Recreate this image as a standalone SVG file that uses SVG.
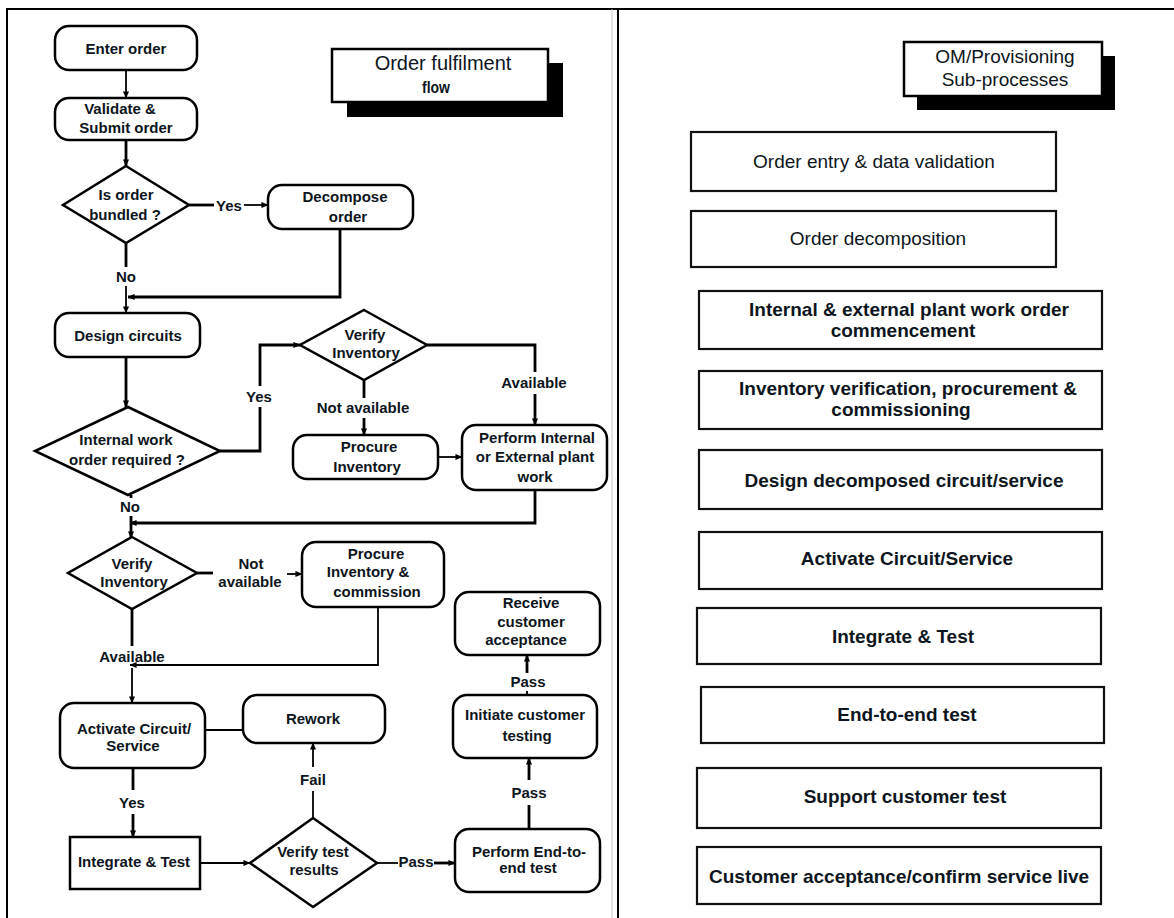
<svg xmlns="http://www.w3.org/2000/svg" width="1174" height="918" viewBox="0 0 1174 918">
<style>
.n{fill:#fff;stroke:#000;stroke-width:2.5}
.b{fill:#fff;stroke:#111;stroke-width:2.2}
.sh{fill:#000}
.c{fill:none;stroke:#000;stroke-width:2.8}
.t{fill:none;stroke:#000;stroke-width:1.8}
.a{marker-end:url(#ah)}
text{font-family:"Liberation Sans",Arial,sans-serif;fill:#0d1520;text-anchor:middle}
.l{font-size:15px;font-weight:bold}
.r{font-size:19px}
.rb{font-size:19px;font-weight:bold}
</style>
<defs>
<marker id="ah" viewBox="0 0 8 8" refX="7.5" refY="4" markerWidth="7" markerHeight="7" markerUnits="userSpaceOnUse" orient="auto">
<path d="M0,0.5 L8,4 L0,7.5 z" fill="#000"/>
</marker>
</defs>
<rect width="1174" height="918" fill="#fff"/>
<g id="frame">
<path d="M7,918 V9 H1174" fill="none" stroke="#000" stroke-width="2"/>
<line x1="612" y1="9" x2="612" y2="918" stroke="#c8c8c8" stroke-width="1"/>
<line x1="618" y1="9" x2="618" y2="918" stroke="#000" stroke-width="2"/>
</g>
<g id="connectors">
<path class="t a" d="M126,70 V98"/>
<path class="c a" d="M126,140 V166"/>
<path class="c" d="M189,205 H214"/>
<path class="t a" d="M244,205 H268"/>
<path class="c" d="M126,243 V267"/>
<path class="t a" d="M126,286 V313"/>
<path class="c a" d="M340,229 V297 H128"/>
<path class="c a" d="M126,357 V407"/>
<path class="c" d="M220,451 H260 V407"/>
<path class="c a" d="M260,386 V345 H300"/>
<path class="c" d="M131,495 V498"/>
<path class="c a" d="M131,516 V538"/>
<path class="c" d="M427,345 H535 V372"/>
<path class="c a" d="M535,394 V425"/>
<path class="c" d="M364,380 V398"/>
<path class="c a" d="M364,418 V435"/>
<path class="t a" d="M438,457 H462"/>
<path class="c a" d="M535,490 V523 H130"/>
<path class="c" d="M197,573 H213"/>
<path class="t a" d="M287,574 H302"/>
<path class="c" d="M132,609 V646"/>
<path class="t a" d="M378,607 V665 H130"/>
<path class="t a" d="M132,668 V703"/>
<path class="t" d="M205,730 H243"/>
<path class="c" d="M133,768 V790"/>
<path class="c a" d="M133,814 V837"/>
<path class="t a" d="M200,863 H250"/>
<path class="t" d="M313,818 V791"/>
<path class="t a" d="M313,767 V743"/>
<path class="t" d="M377,863 H398"/>
<path class="c a" d="M434,863 H455"/>
<path class="c" d="M529,829 V805"/>
<path class="c a" d="M529,780 V758"/>
<path class="t" d="M527,695 V691"/>
<path class="c a" d="M527,673 V655"/>
</g>
<g id="labels">
<text class="l" x="229" y="211">Yes</text>
<text class="l" x="126" y="282">No</text>
<text class="l" x="259" y="402">Yes</text>
<text class="l" x="130" y="512">No</text>
<text class="l" x="534" y="388">Available</text>
<text class="l" x="363" y="413">Not available</text>
<text class="l" x="251" y="569">Not</text>
<text class="l" x="250" y="587">available</text>
<text class="l" x="132" y="662">Available</text>
<text class="l" x="132" y="808">Yes</text>
<text class="l" x="313" y="785">Fail</text>
<text class="l" x="416" y="867">Pass</text>
<text class="l" x="529" y="798">Pass</text>
<text class="l" x="528" y="687">Pass</text>
</g>
<g id="title-left">
<rect class="sh" x="347" y="63" width="216" height="54"/>
<rect class="n" x="332" y="49" width="216" height="53"/>
<text x="443" y="70" style="font-size:20px">Order fulfilment</text>
<text x="436" y="93" style="font-size:16px;font-weight:bold" textLength="28" lengthAdjust="spacingAndGlyphs">flow</text>
</g>
<g id="enter-order">
<rect class="n" x="55" y="26" width="142" height="44" rx="14"/>
<text class="l" x="126" y="54">Enter order</text>
</g>
<g id="validate-submit">
<rect class="n" x="55" y="98" width="142" height="42" rx="14"/>
<text class="l" x="120" y="114">Validate &amp;</text>
<text class="l" x="126" y="133">Submit order</text>
</g>
<g id="is-order-bundled">
<polygon class="n" points="126,166 189,205 126,243 63,205"/>
<text class="l" x="126" y="200">Is order</text>
<text class="l" x="125" y="220">bundled ?</text>
</g>
<g id="decompose-order">
<rect class="n" x="268" y="185" width="145" height="44" rx="14"/>
<text class="l" x="345" y="202">Decompose</text>
<text class="l" x="348" y="222">order</text>
</g>
<g id="design-circuits">
<rect class="n" x="55" y="313" width="145" height="44" rx="14"/>
<text class="l" x="128" y="341">Design circuits</text>
</g>
<g id="internal-work-order">
<polygon class="n" points="128,407 220,451 128,495 35,451"/>
<text class="l" x="126" y="445">Internal work</text>
<text class="l" x="127" y="465">order required ?</text>
</g>
<g id="verify-inventory-1">
<polygon class="n" points="364,310 427,345 364,380 300,345"/>
<text class="l" x="365" y="340">Verify</text>
<text class="l" x="366" y="358">Inventory</text>
</g>
<g id="procure-inventory">
<rect class="n" x="293" y="435" width="145" height="44" rx="14"/>
<text class="l" x="369" y="452">Procure</text>
<text class="l" x="367" y="472">Inventory</text>
</g>
<g id="perform-plant-work">
<rect class="n" x="462" y="425" width="145" height="65" rx="14"/>
<text class="l" x="537" y="443">Perform Internal</text>
<text class="l" x="535" y="462">or External plant</text>
<text class="l" x="535" y="482">work</text>
</g>
<g id="verify-inventory-2">
<polygon class="n" points="132,537 197,573 132,609 68,573"/>
<text class="l" x="132" y="569">Verify</text>
<text class="l" x="134" y="587">Inventory</text>
</g>
<g id="procure-commission">
<rect class="n" x="302" y="542" width="142" height="65" rx="14"/>
<text class="l" x="376" y="559">Procure</text>
<text class="l" x="368" y="577">Inventory &amp;</text>
<text class="l" x="377" y="597">commission</text>
</g>
<g id="receive-acceptance">
<rect class="n" x="455" y="592" width="145" height="63" rx="14"/>
<text class="l" x="531" y="608">Receive</text>
<text class="l" x="531" y="627">customer</text>
<text class="l" x="526" y="645">acceptance</text>
</g>
<g id="activate-circuit">
<rect class="n" x="60" y="703" width="145" height="65" rx="14"/>
<text class="l" x="134" y="734">Activate Circuit/</text>
<text class="l" x="133" y="751">Service</text>
</g>
<g id="rework">
<rect class="n" x="243" y="695" width="142" height="48" rx="14"/>
<text class="l" x="313" y="724">Rework</text>
</g>
<g id="initiate-testing">
<rect class="n" x="453" y="695" width="144" height="63" rx="14"/>
<text class="l" x="525" y="720">Initiate customer</text>
<text class="l" x="527" y="741">testing</text>
</g>
<g id="integrate-test">
<rect class="n" x="70" y="837" width="130" height="52"/>
<text class="l" x="134" y="867">Integrate &amp; Test</text>
</g>
<g id="verify-test-results">
<polygon class="n" points="313,818 377,863 313,907 250,863"/>
<text class="l" x="313" y="857">Verify test</text>
<text class="l" x="314" y="875">results</text>
</g>
<g id="perform-e2e">
<rect class="n" x="455" y="829" width="145" height="63" rx="14"/>
<text class="l" x="529" y="857">Perform End-to-</text>
<text class="l" x="528" y="873">end test</text>
</g>
<g id="title-right">
<rect class="sh" x="917" y="56" width="198" height="54"/>
<rect class="n" x="904" y="42" width="198" height="54"/>
<text x="1005" y="63" style="font-size:19px">OM/Provisioning</text>
<text x="1005" y="86" style="font-size:19px">Sub-processes</text>
</g>
<g id="sp-order-entry">
<rect class="b" x="691" y="132" width="365" height="59"/>
<text class="r" x="874" y="168">Order entry &amp; data validation</text>
</g>
<g id="sp-order-decomposition">
<rect class="b" x="691" y="211" width="365" height="56"/>
<text class="r" x="878" y="245">Order decomposition</text>
</g>
<g id="sp-plant-work">
<rect class="b" x="699" y="291" width="403" height="58"/>
<text class="rb" x="909" y="316">Internal &amp; external plant work order</text>
<text class="rb" x="903" y="337">commencement</text>
</g>
<g id="sp-inventory">
<rect class="b" x="699" y="371" width="403" height="58"/>
<text class="rb" x="908" y="395">Inventory verification, procurement &amp;</text>
<text class="rb" x="901" y="416">commissioning</text>
</g>
<g id="sp-design">
<rect class="b" x="699" y="450" width="403" height="59"/>
<text class="rb" x="904" y="487">Design decomposed circuit/service</text>
</g>
<g id="sp-activate">
<rect class="b" x="699" y="532" width="403" height="57"/>
<text class="rb" x="907" y="565">Activate Circuit/Service</text>
</g>
<g id="sp-integrate">
<rect class="b" x="697" y="608" width="404" height="56"/>
<text class="rb" x="903" y="643">Integrate &amp; Test</text>
</g>
<g id="sp-e2e">
<rect class="b" x="701" y="687" width="403" height="56"/>
<text class="rb" x="907" y="721">End-to-end test</text>
</g>
<g id="sp-support">
<rect class="b" x="697" y="768" width="404" height="60"/>
<text class="rb" x="905" y="803">Support customer test</text>
</g>
<g id="sp-acceptance">
<rect class="b" x="697" y="847" width="404" height="57"/>
<text class="rb" x="709" y="883" style="text-anchor:start">Customer acceptance/confirm service live</text>
</g>
</svg>
